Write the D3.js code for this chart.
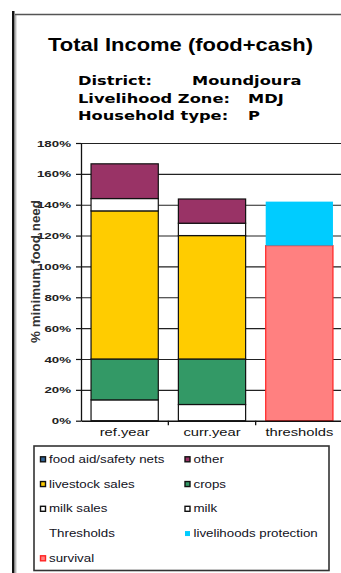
<!DOCTYPE html>
<html>
<head>
<meta charset="utf-8">
<script src="https://cdn.jsdelivr.net/npm/d3@7"></script>
<style>
  body { margin: 0; background: #fff; }
  svg { display: block; }
  .axis path, .axis line { stroke: #111; }
  .grid line { stroke: #222; stroke-width: 1.1; }
  .grid path { stroke: none; }
</style>
</head>
<body>
<div class="chart"></div>
<script>
const categories = ["ref.year", "curr.year", "thresholds"];
const milk            = [13.5, 10.5, 0];
const crops           = [26.5, 29.5, 0];
const livestockSales  = [96, 80, 0];
const milkSales       = [8, 8, 0];
const other           = [22.5, 15.7, 0];
const foodAid         = [0, 0, 0];
const survival        = [0, 0, 113.5];
const livelihoodsProt = [0, 0, 28.5];
const yTicks = [0, 20, 40, 60, 80, 100, 120, 140, 160, 180];

const seriesKeys = ["milk", "crops", "livestock sales", "milk sales", "other", "food aid/safety nets", "survival", "livelihoods protection"];
const seriesVals = [milk, crops, livestockSales, milkSales, other, foodAid, survival, livelihoodsProt];
const colors = {
  "milk": ["#ffffff", "#111"],
  "crops": ["#339966", "#111"],
  "livestock sales": ["#ffcc00", "#111"],
  "milk sales": ["#ffffff", "#111"],
  "other": ["#993366", "#111"],
  "food aid/safety nets": ["#336699", "#111"],
  "survival": ["#ff8080", "#ff2222"],
  "livelihoods protection": ["#00ccff", "none"]
};

// legend entries, row by row (left, right)
const legendRows = [
  ["food aid/safety nets", "other"],
  ["livestock sales", "crops"],
  ["milk sales", "milk"],
  ["Thresholds", "livelihoods protection"],
  ["survival", null]
];

const table = categories.map((c, i) => {
  const row = {cat: c};
  seriesKeys.forEach((k, j) => row[k] = seriesVals[j][i]);
  return row;
});

const W = 341, H = 573;
const plot = {left: 81, right: 343, top: 143, bottom: 420.7};

const svg = d3.select(".chart").append("svg")
  .attr("width", W).attr("height", H);

function stretch(sel, k) {
  sel.each(function() {
    const w = this.getComputedTextLength();
    d3.select(this).attr("textLength", w * k).attr("lengthAdjust", "spacingAndGlyphs");
  });
}

// frame
svg.append("rect").attr("x", 12).attr("y", 11).attr("width", 2.5).attr("height", H - 11).attr("fill", "#111");
svg.append("line").attr("x1", 15.8).attr("x2", 15.8).attr("y1", 14).attr("y2", H)
  .attr("stroke", "#999").attr("stroke-width", 1);
svg.append("line").attr("x1", 15).attr("x2", W).attr("y1", 14.5).attr("y2", 14.5)
  .attr("stroke", "#555").attr("stroke-width", 1.4);

// title
const title = svg.append("text")
  .attr("x", 180.5).attr("y", 51)
  .attr("text-anchor", "middle")
  .attr("font-family", "Liberation Sans, Arial, sans-serif")
  .attr("font-weight", "bold")
  .attr("font-size", 19)
  .attr("fill", "#000")
  .text("Total Income (food+cash)");
title.attr("textLength", 265).attr("lengthAdjust", "spacingAndGlyphs");

const subtitle = [
  ["District:", 78, 85], ["Moundjoura", 192, 85],
  ["Livelihood Zone:", 78, 102.5], ["MDJ", 248, 102.5],
  ["Household type:", 78, 120], ["P", 248, 120]
];
svg.selectAll(".sub").data(subtitle).enter().append("text")
  .attr("class", "sub")
  .attr("x", d => d[1]).attr("y", d => d[2])
  .attr("font-family", "DejaVu Sans, Verdana, sans-serif")
  .attr("font-weight", "bold")
  .attr("font-size", 12.5)
  .attr("fill", "#000")
  .text(d => d[0])
  .call(stretch, 1.3);

// scales
const x = d3.scaleBand()
  .domain(categories)
  .range([plot.left, plot.right])
  .paddingInner(0.23)
  .paddingOuter(0.115);

const y = d3.scaleLinear()
  .domain([0, 180])
  .range([plot.bottom, plot.top]);

// gridlines
svg.append("g")
  .attr("class", "grid")
  .attr("transform", `translate(${plot.left},0)`)
  .call(d3.axisLeft(y).tickValues(yTicks.slice(1)).tickSize(-(plot.right - plot.left)).tickFormat(""));

// bars
const stack = d3.stack().keys(seriesKeys);
const layers = stack(table);
svg.selectAll(".layer")
  .data(layers)
  .enter()
  .append("g")
  .attr("class", "layer")
  .attr("fill", d => colors[d.key][0])
  .attr("stroke", d => colors[d.key][1])
  .attr("stroke-width", 1.2)
  .selectAll("rect")
  .data(d => d.filter(p => p[1] - p[0] > 0))
  .enter()
  .append("rect")
  .attr("x", d => x(d.data.cat))
  .attr("width", x.bandwidth())
  .attr("y", d => y(d[1]))
  .attr("height", d => y(d[0]) - y(d[1]));

// y axis
const yAxis = svg.append("g")
  .attr("class", "axis y-axis")
  .attr("transform", `translate(${plot.left},0)`)
  .call(d3.axisLeft(y).tickValues(yTicks).tickSize(5).tickSizeOuter(0).tickPadding(5)
    .tickFormat(d => d + "%"));
yAxis.select(".domain").attr("stroke-width", 1.3);
yAxis.selectAll(".tick line").attr("stroke-width", 1.2);
yAxis.selectAll("text")
  .attr("font-family", "Liberation Sans, Arial, sans-serif")
  .attr("font-weight", "bold")
  .attr("font-size", 9.5)
  .attr("fill", "#222")
  .call(stretch, 1.4);

// x axis
const xAxis = svg.append("g")
  .attr("class", "axis x-axis")
  .attr("transform", `translate(0,${plot.bottom})`)
  .call(d3.axisBottom(x).tickSize(0).tickPadding(7));
xAxis.select(".domain").attr("stroke-width", 1.6);
xAxis.selectAll("text")
  .attr("font-family", "Liberation Sans, Arial, sans-serif")
  .attr("font-size", 11.5)
  .attr("fill", "#111")
  .call(stretch, 1.28);

// boundary ticks between categories
const step = x.step();
xAxis.selectAll(".bound")
  .data(categories.slice(1))
  .enter()
  .append("line")
  .attr("class", "bound")
  .attr("x1", d => x(d) - step * x.paddingInner() / 2)
  .attr("x2", d => x(d) - step * x.paddingInner() / 2)
  .attr("y1", 0).attr("y2", 4.5)
  .attr("stroke", "#111").attr("stroke-width", 1.3);

// y axis title
svg.append("text")
  .attr("transform", "translate(40,271.5) rotate(-90)")
  .attr("text-anchor", "middle")
  .attr("font-family", "Liberation Sans, Arial, sans-serif")
  .attr("font-weight", "bold")
  .attr("font-size", 12)
  .attr("fill", "#333")
  .attr("textLength", 143)
  .attr("lengthAdjust", "spacingAndGlyphs")
  .text("% minimum food need");

// legend
const lg = svg.append("g").attr("class", "legend");
lg.append("rect")
  .attr("x", 34).attr("y", 446).attr("width", 295).attr("height", 124.5)
  .attr("fill", "#fff").attr("stroke", "#333").attr("stroke-width", 1.6);

const legendItems = [];
legendRows.forEach((r, i) => r.forEach((name, j) => {
  if (name) legendItems.push({name: name, row: i, col: j});
}));
const colX = [43, 187.5];
const rowY = d => 459.3 + d.row * 24.75;

lg.selectAll(".key")
  .data(legendItems.filter(d => colors[d.name]))
  .enter()
  .append("rect")
  .attr("class", "key")
  .attr("x", d => colX[d.col] - 2.5)
  .attr("y", d => rowY(d) - 2.5)
  .attr("width", 5).attr("height", 5)
  .attr("fill", d => colors[d.name][0])
  .attr("stroke", d => colors[d.name][1])
  .attr("stroke-width", 1.4);

lg.selectAll(".label")
  .data(legendItems)
  .enter()
  .append("text")
  .attr("class", "label")
  .attr("x", d => colX[d.col] + 6)
  .attr("y", d => rowY(d) + 3.5)
  .attr("font-family", "Liberation Sans, Arial, sans-serif")
  .attr("font-size", 10)
  .attr("fill", "#111122")
  .text(d => d.name)
  .call(stretch, 1.33);
</script>
</body>
</html>
